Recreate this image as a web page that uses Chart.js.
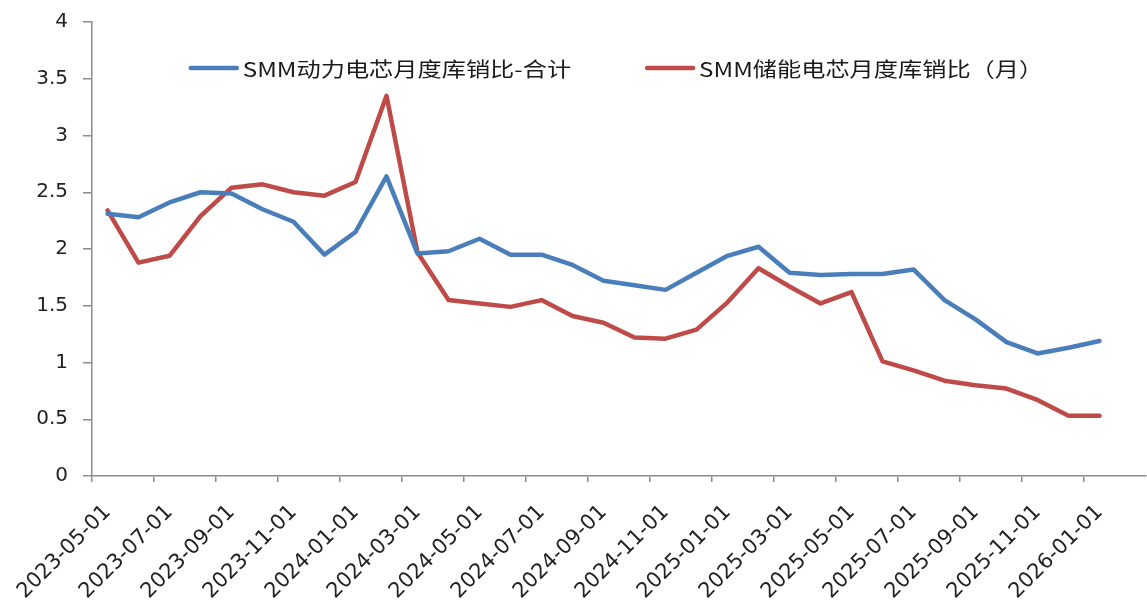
<!DOCTYPE html>
<html>
<head>
<meta charset="utf-8">
<script src="https://cdn.jsdelivr.net/npm/chart.js@4"></script>
<style>
  html, body { margin: 0; padding: 0; background: #fff; }
  #wrap { width: 1147px; height: 608px; }
</style>
</head>
<body>
<div id="wrap"><canvas id="ratioChart" width="1147" height="608"></canvas></div>
<script>
// monthly dates, last slot (2026-02) has no data yet
const months = [
  "2023-05-01", "2023-06-01", "2023-07-01", "2023-08-01", "2023-09-01", "2023-10-01",
  "2023-11-01", "2023-12-01", "2024-01-01", "2024-02-01", "2024-03-01", "2024-04-01",
  "2024-05-01", "2024-06-01", "2024-07-01", "2024-08-01", "2024-09-01", "2024-10-01",
  "2024-11-01", "2024-12-01", "2025-01-01", "2025-02-01", "2025-03-01", "2025-04-01",
  "2025-05-01", "2025-06-01", "2025-07-01", "2025-08-01", "2025-09-01", "2025-10-01",
  "2025-11-01", "2025-12-01", "2026-01-01", "2026-02-01"
];
const powerCellRatio = [
  2.31, 2.28, 2.41, 2.50, 2.49, 2.35, 2.24, 1.95, 2.15, 2.64, 1.96,
  1.98, 2.09, 1.95, 1.95, 1.86, 1.72, 1.68, 1.64, 1.79, 1.94, 2.02,
  1.79, 1.77, 1.78, 1.78, 1.82, 1.55, 1.38, 1.18, 1.08, 1.13, 1.19, null
];
const storageCellRatio = [
  2.34, 1.88, 1.94, 2.29, 2.54, 2.57, 2.50, 2.47, 2.59, 3.35, 1.97,
  1.55, 1.52, 1.49, 1.55, 1.41, 1.35, 1.22, 1.21, 1.29, 1.53, 1.83,
  1.67, 1.52, 1.62, 1.01, 0.93, 0.84, 0.80, 0.77, 0.67, 0.53, 0.53, null
];
const yTicks = [0, 0.5, 1, 1.5, 2, 2.5, 3, 3.5, 4];

const axisGray = "#8c8c8c";
const textColor = "#222";
const numFont = "'DejaVu Sans', sans-serif";

// legend sits inside the plot, in one row; text is a bit stretched like the source image
const insideLegend = {
  id: "insideLegend",
  afterDraw(chart) {
    const {ctx, chartArea} = chart;
    const sx = 1.21, lineW = 50, gap = 4, itemGap = 74;
    ctx.save();
    ctx.font = "20px 'Noto Sans CJK SC', sans-serif";
    const items = chart.data.datasets.map(ds => ({ds: ds, w: ctx.measureText(ds.label).width * sx}));
    const total = items.reduce((s, it) => s + lineW + gap + it.w, 0) + itemGap * (items.length - 1);
    let x = (chartArea.left + chartArea.right) / 2 - total / 2 - 3;
    const y = chartArea.top + 46;
    items.forEach(it => {
      ctx.strokeStyle = it.ds.borderColor;
      ctx.lineWidth = 4.5;
      ctx.lineCap = "round";
      ctx.beginPath();
      ctx.moveTo(x + 2, y);
      ctx.lineTo(x + lineW - 2, y);
      ctx.stroke();
      x += lineW + gap;
      ctx.save();
      ctx.translate(x, y);
      ctx.scale(sx, 1);
      ctx.fillStyle = "#1a1a1a";
      ctx.textBaseline = "middle";
      ctx.fillText(it.ds.label, 0, 1);
      ctx.restore();
      x += it.w + itemGap;
    });
    ctx.restore();
  }
};

window.addEventListener("DOMContentLoaded", function () {
  const ctx = document.getElementById("ratioChart").getContext("2d");
  new Chart(ctx, {
    type: "line",
    data: {
      labels: months,
      datasets: [{
        label: "SMM动力电芯月度库销比-合计",
        data: powerCellRatio,
        borderColor: "#4a7ebb",
        backgroundColor: "#4a7ebb",
        borderWidth: 4.5,
        pointRadius: 0,
        borderJoinStyle: "round",
        borderCapStyle: "round",
        tension: 0
      }, {
        label: "SMM储能电芯月度库销比（月）",
        data: storageCellRatio,
        borderColor: "#be4b48",
        backgroundColor: "#be4b48",
        borderWidth: 4.5,
        pointRadius: 0,
        borderJoinStyle: "round",
        borderCapStyle: "round",
        tension: 0
      }]
    },
    plugins: [insideLegend],
    options: {
      responsive: false,
      animation: false,
      layout: {padding: {top: 22, right: 1, left: 0, bottom: 0}},
      plugins: {
        tooltip: {enabled: false},
        legend: {display: false}
      },
      scales: {
        x: {
          offset: true,
          border: {color: axisGray, width: 1.5},
          grid: {
            offset: true,
            drawOnChartArea: false,
            drawTicks: true,
            tickLength: 6,
            lineWidth: 1.5,
            color: c => (c.index % 2 === 0 ? axisGray : "rgba(0,0,0,0)")
          },
          ticks: {
            autoSkip: false,
            minRotation: 45,
            maxRotation: 45,
            padding: 18,
            color: textColor,
            font: {family: numFont, size: 21},
            callback: function (v, i) {
              return i % 2 === 0 && i < months.length - 1 ? months[i] : "";
            }
          },
          afterFit: s => {
            s.height = 132;
            s.paddingLeft = 0;
            s.paddingRight = 0;
          }
        },
        y: {
          min: 0,
          max: 4,
          border: {color: axisGray, width: 1.5},
          grid: {
            drawOnChartArea: false,
            drawTicks: true,
            tickLength: 9,
            lineWidth: 1.5,
            color: axisGray
          },
          afterBuildTicks: s => { s.ticks = yTicks.map(v => ({value: v})); },
          ticks: {
            padding: 15,
            color: textColor,
            font: {family: numFont, size: 20},
            callback: v => String(v)
          },
          afterFit: s => {
            s.width = 92;
            s.paddingTop = 0;
            s.paddingBottom = 0;
          }
        }
      }
    }
  });
});
</script>
</body>
</html>
